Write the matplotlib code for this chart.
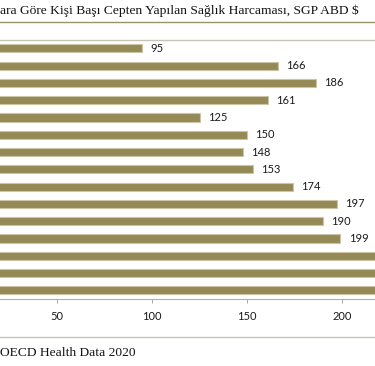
import matplotlib.pyplot as plt
import numpy as np

# values, top bar first (last three run past the crop)
values = [95, 166, 186, 161, 125, 150, 148, 153, 174, 197, 190, 199, 235, 250, 265]
labels = ['95', '166', '186', '161', '125', '150', '148', '153', '174', '197',
          '190', '199', '', '', '']
xticks = [50, 100, 150, 200]

# the visible part of the cropped title
title = 'ara Göre Kişi Başı Cepten Yapılan Sağlık Harcaması, SGP ABD $'
source = 'OECD Health Data 2020'

bar_color = '#958a55'
edge_color = '#cbc4a6'

fig = plt.figure(figsize=(3.75, 3.66), dpi=100)

# axes start off the left edge of the image, like the cropped original
xmax = 250
ax = fig.add_axes([-38.5 / 375.0, (366 - 299) / 366.0,
                   xmax * 1.904 / 375.0, (299 - 39.7) / 366.0])

y = np.arange(len(values))
ax.barh(y, values, height=0.47, color=bar_color, edgecolor=edge_color,
        linewidth=0.8)
for yi, v, lab in zip(y, values, labels):
    ax.text(v + 4.3, yi, lab, va='center', ha='left', fontsize=8,
            family='Lato', color='#1a1a1a')

ax.set_ylim(len(values) - 0.5, -0.5)
ax.set_xlim(0, xmax)
ax.set_yticks([])
ax.set_xticks(xticks)
ax.set_xticklabels([str(t) for t in xticks], fontsize=8, family='Lato',
                   color='#1a1a1a')
ax.tick_params(axis='x', length=3, width=0.6, color='#999999', pad=6)
for s in ['left', 'right']:
    ax.spines[s].set_visible(False)
ax.spines['top'].set_color('#c8c4b4')
ax.spines['top'].set_linewidth(1.0)
ax.spines['bottom'].set_color('#b0b0b0')
ax.spines['bottom'].set_linewidth(0.8)

# title, rules and source line of the figure
fig.text(359 / 375.0, 1 - 14 / 366.0, title, ha='right', va='baseline',
         fontsize=9.7, family='Liberation Serif', color='#111111')
fig.add_artist(plt.Line2D([0, 1], [1 - 22 / 366.0] * 2, color='#9c9264',
                          linewidth=1.0))
fig.add_artist(plt.Line2D([0, 1], [1 - 337 / 366.0] * 2, color='#c8c4b4',
                          linewidth=1.0))
fig.text(0.0, 1 - 356 / 366.0, source, ha='left', va='baseline',
         fontsize=9.7, family='Liberation Serif', color='#111111')

fig.savefig('out.png', dpi=100)
